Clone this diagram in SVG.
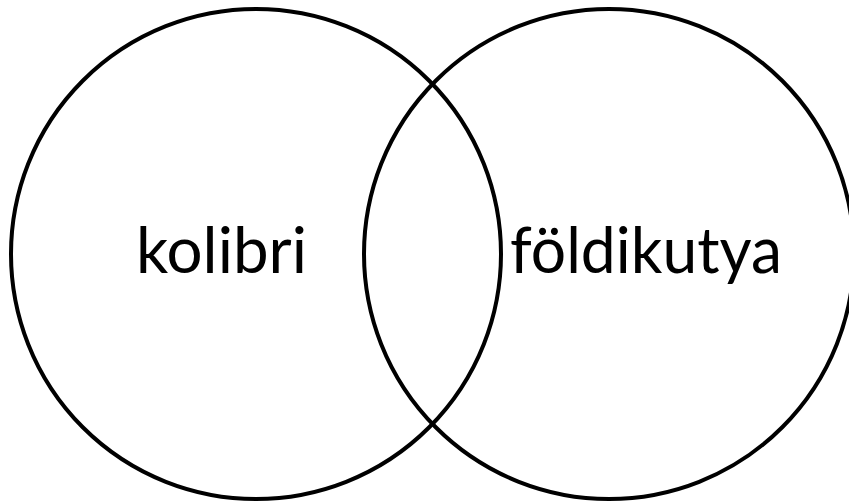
<svg xmlns="http://www.w3.org/2000/svg" width="849" height="502" viewBox="0 0 849 502">
<style>
.c{fill:none;stroke:#000;stroke-width:4}
.t{font-family:Lato,"Open Sans","Liberation Sans",sans-serif;font-size:63px;fill:#000}
</style>
<rect width="849" height="502" fill="#fff"/>
<g id="set-kolibri">
<circle class="c" cx="256" cy="254" r="245"/>
<text class="t" x="136" y="273" textLength="171" lengthAdjust="spacingAndGlyphs">kolibri</text>
</g>
<g id="set-foldikutya">
<circle class="c" cx="609" cy="254" r="245"/>
<text class="t" x="510" y="273" textLength="272" lengthAdjust="spacingAndGlyphs">földikutya</text>
</g>
</svg>
